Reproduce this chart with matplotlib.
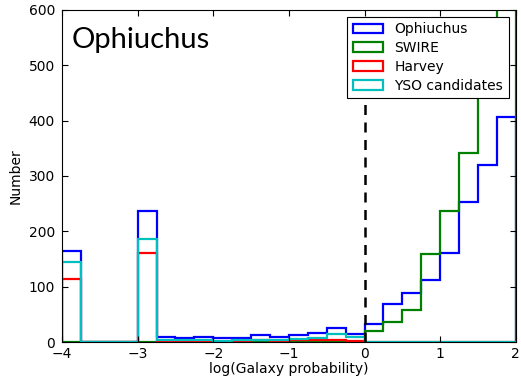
import numpy as np
import matplotlib
matplotlib.use('Agg')
import matplotlib.pyplot as plt
from matplotlib.patches import Patch

# bin edges of log(Galaxy probability), width 0.25
edges = np.arange(-4.0, 2.001, 0.25)

# counts per bin
ophiuchus = [165, 0, 0, 0, 237, 10, 7, 9, 8, 8, 12, 9,
             12, 17, 25, 15, 32, 68, 88, 112, 161, 253, 319, 406]
swire = [0, 0, 0, 0, 0, 0, 0, 0, 0, 0, 0, 0,
         0, 0, 0, 0, 20, 36, 58, 159, 237, 342, 520, 700]
harvey = [114, 0, 0, 0, 161, 1, 1, 2, 1, 2, 3, 2,
          3, 3, 4, 2, 1, 0, 0, 0, 0, 0, 0, 0]
yso = [145, 0, 0, 0, 186, 4, 3, 3, 2, 3, 3, 4,
       5, 8, 14, 10, 0, 0, 0, 0, 0, 0, 0, 0]

series = [("Ophiuchus", ophiuchus, "#0000ff"),
          ("SWIRE", swire, "#008000"),
          ("Harvey", harvey, "#ff0000"),
          ("YSO candidates", yso, "#00bfbf")]

fig = plt.figure(figsize=(5.21, 3.78), dpi=100)
ax = fig.add_axes([0.119, 0.095, 0.871, 0.879])

handles = []
for name, vals, col in series:
    ax.stairs(vals, edges, color=col, linewidth=1.6, baseline=0)
    handles.append(Patch(facecolor="white", edgecolor=col, linewidth=1.6, label=name))

# boundary at log p = 0
ax.axvline(0, color="black", linestyle="--", linewidth=1.8, dashes=(4, 3))

ax.set_xlim(-4, 2)
ax.set_ylim(0, 600)
ax.set_xticks([-4, -3, -2, -1, 0, 1, 2])
ax.set_xticklabels(["\u22124", "\u22123", "\u22122", "\u22121", "0", "1", "2"])
ax.tick_params(direction="in", top=True, right=True, labelsize=10, length=4)
ax.tick_params(axis="y", pad=5)
ax.set_xlabel("log(Galaxy probability)", fontsize=10, labelpad=1)
ax.set_ylabel("Number", fontsize=10)

ax.text(0.022, 0.91, "Ophiuchus", transform=ax.transAxes, fontsize=21,
        family="Lato", va="center", ha="left")

leg = ax.legend(handles=handles, loc="upper right", fontsize=10,
                handlelength=2.2, borderaxespad=0.5, fancybox=False,
                framealpha=1, edgecolor="black", labelspacing=0.35)
leg.get_frame().set_linewidth(0.8)

fig.savefig("out.png", dpi=100)
